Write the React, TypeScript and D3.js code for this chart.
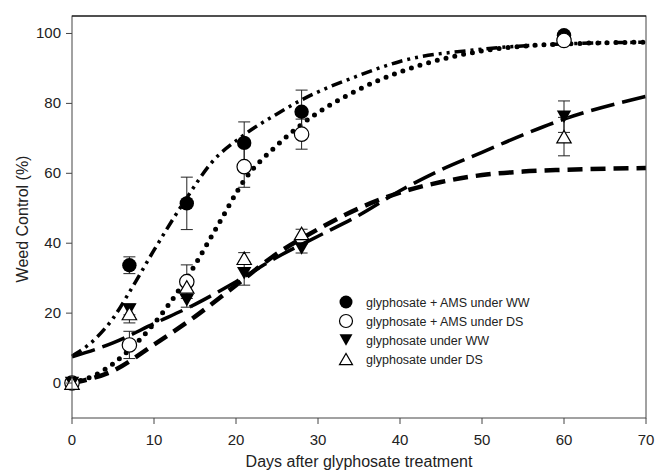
import React from "react";
import * as d3 from "d3";

const days = [0, 7, 14, 21, 28, 60];
const amsWW = [0, 33.7, 51.4, 68.7, 77.6, 99.5];
const amsWWErr = [0, 2.4, 7.5, 6, 6.2, 0.5];
const amsDS = [0, 10.9, 29, 61.9, 71.2, 98];
const amsDSErr = [0, 3.9, 4.8, 5.9, 4.3, 0.5];
const glyWW = [0, 21, 23.7, 31.4, 38.5, 76.2];
const glyWWErr = [0, 1.5, 2, 3.4, 1.3, 4.5];
const glyDS = [0, 19.9, 27.5, 35.7, 42.8, 70.5];
const glyDSErr = [0, 2.7, 2.5, 1.6, 1.2, 5.5];

// fitted curves
const fitAmsWWx = [0, 3, 5, 7, 10, 14, 17, 21, 25, 28, 35, 40, 50, 60, 70];
const fitAmsWWy = [7.7, 13, 18.5, 26, 38, 53, 63, 71, 77, 81, 88, 92, 95.5, 97, 97.5];
const fitAmsDSx = [0, 3, 7, 10, 14, 18, 21, 25, 28, 35, 40, 50, 60, 70];
const fitAmsDSy = [0, 2.5, 9.5, 17, 30, 46, 58, 68, 74, 84, 89, 95, 97, 97.5];
const fitGlyWWx = [0, 5, 10, 15, 20, 25, 30, 35, 40, 45, 50, 55, 60, 70];
const fitGlyWWy = [7.5, 11.5, 17, 22.5, 29, 36, 42, 48, 55, 61, 66, 71, 75.5, 82];
const fitGlyDSx = [0, 5, 10, 15, 20, 25, 30, 35, 40, 45, 50, 55, 60, 70];
const fitGlyDSy = [0, 3.5, 11, 19, 28, 37, 44, 50, 54.5, 57.5, 59.5, 60.5, 61, 61.5];

const xTicks = [0, 10, 20, 30, 40, 50, 60, 70];
const yTicks = [0, 20, 40, 60, 80, 100];
const legendLabels = [
  "glyphosate + AMS under WW",
  "glyphosate + AMS under DS",
  "glyphosate under WW",
  "glyphosate under DS",
];

const W = 656, H = 472;
const L = 72, R = 646, T = 16, B = 418;
const FONT = "Arial, 'Liberation Sans', sans-serif";

export default function App() {
  const x = d3.scaleLinear().domain([0, 70]).range([L, R]);
  const y = d3.scaleLinear().domain([-10, 105]).range([B, T]);

  const line = (xs: number[], ys: number[]) =>
    d3
      .line<number>()
      .x((_, i) => x(xs[i]))
      .y((v) => y(v))
      .curve(d3.curveMonotoneX)(ys) || "";

  const tri = (cx: number, cy: number, s: number, down: boolean) => {
    const h = s * 0.87;
    if (down)
      return `M${cx - s / 2},${cy - h / 2}L${cx + s / 2},${cy - h / 2}L${cx},${cy + h / 2}Z`;
    return `M${cx - s / 2},${cy + h / 2}L${cx + s / 2},${cy + h / 2}L${cx},${cy - h / 2}Z`;
  };

  const series = [
    { vals: amsWW, err: amsWWErr, kind: "fc" },
    { vals: amsDS, err: amsDSErr, kind: "oc" },
    { vals: glyWW, err: glyWWErr, kind: "ft" },
    { vals: glyDS, err: glyDSErr, kind: "ot" },
  ];

  const marker = (kind: string, cx: number, cy: number, key: any, r = 7.2) => {
    if (kind === "fc") return <circle key={key} cx={cx} cy={cy} r={r} fill="#000" />;
    if (kind === "oc")
      return <circle key={key} cx={cx} cy={cy} r={r} fill="#fff" stroke="#000" strokeWidth={1.2} />;
    if (kind === "ft") return <path key={key} d={tri(cx, cy, r * 2, true)} fill="#000" />;
    return <path key={key} d={tri(cx, cy, r * 2, false)} fill="#fff" stroke="#000" strokeWidth={1.2} />;
  };

  return (
    <svg width={W} height={H} style={{ position: "absolute", left: 0, top: 0, background: "#fff" }}>
      {/* fit curves */}
      <path d={line(fitAmsWWx, fitAmsWWy)} fill="none" stroke="#000" strokeWidth={3.5} strokeDasharray="11 5 3 5 3 5" />
      <path d={line(fitAmsDSx, fitAmsDSy)} fill="none" stroke="#000" strokeWidth={5} strokeLinecap="round" strokeDasharray="0 9" />
      <path d={line(fitGlyWWx, fitGlyWWy)} fill="none" stroke="#000" strokeWidth={3.5} strokeDasharray="24 8" />
      <path d={line(fitGlyDSx, fitGlyDSy)} fill="none" stroke="#000" strokeWidth={4.5} strokeDasharray="15 8" />

      {/* error bars */}
      {series.map((s, si) =>
        days.map((d, i) =>
          s.err[i] > 0 ? (
            <g key={`e${si}-${i}`} stroke="#222" strokeWidth={1}>
              <line x1={x(d)} x2={x(d)} y1={y(s.vals[i] - s.err[i])} y2={y(s.vals[i] + s.err[i])} />
              <line x1={x(d) - 6} x2={x(d) + 6} y1={y(s.vals[i] + s.err[i])} y2={y(s.vals[i] + s.err[i])} />
              <line x1={x(d) - 6} x2={x(d) + 6} y1={y(s.vals[i] - s.err[i])} y2={y(s.vals[i] - s.err[i])} />
            </g>
          ) : null
        )
      )}

      {/* markers */}
      {series.map((s, si) => days.map((d, i) => marker(s.kind, x(d), y(s.vals[i]), `m${si}-${i}`)))}

      {/* frame */}
      <rect x={L} y={T} width={R - L} height={B - T} fill="none" stroke="#444" strokeWidth={1} />
      <line x1={L} x2={R} y1={T} y2={T} stroke="#000" strokeWidth={1.2} />

      {/* axes ticks */}
      {xTicks.map((t) => (
        <g key={`xt${t}`}>
          <line x1={x(t)} x2={x(t)} y1={B} y2={B + 6} stroke="#444" />
          <text x={x(t)} y={B + 27} textAnchor="middle" fontFamily={FONT} fontSize={15} fill="#222">
            {t}
          </text>
        </g>
      ))}
      {yTicks.map((t) => (
        <g key={`yt${t}`}>
          <line x1={L - 6} x2={L} y1={y(t)} y2={y(t)} stroke="#444" />
          <text x={L - 11} y={y(t) + 5} textAnchor="end" fontFamily={FONT} fontSize={15} fill="#222">
            {t}
          </text>
        </g>
      ))}

      <text x={(L + R) / 2} y={467} textAnchor="middle" fontFamily={FONT} fontSize={16} fill="#222">
        Days after glyphosate treatment
      </text>
      <text
        transform={`translate(28,${(T + B) / 2 + 2}) rotate(-90)`}
        textAnchor="middle"
        fontFamily={FONT}
        fontSize={16}
        fill="#222"
      >
        Weed Control (%)
      </text>

      {/* legend */}
      {legendLabels.map((lab, i) => {
        const cy = 302 + i * 19;
        return (
          <g key={`lg${i}`}>
            {marker(series[i].kind, 346, cy, `lm${i}`, 6.5)}
            <text x={366} y={cy + 4.5} fontFamily={FONT} fontSize={12.5} fill="#222">
              {lab}
            </text>
          </g>
        );
      })}
    </svg>
  );
}
